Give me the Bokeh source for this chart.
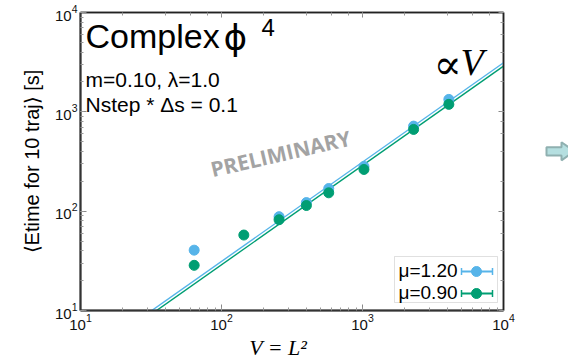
from bokeh.plotting import figure
from bokeh.layouts import row
from bokeh.models import (Label, LogAxis, LogTicker, BoxAnnotation,
                          Arrow, TeeHead, ColumnDataSource, Range1d, CustomJSTickFormatter)
from bokeh.embed import file_html
from bokeh.resources import INLINE

# ---- data ----
V_mu120 = [64, 256, 400, 576, 1024, 2304, 4096]
T_mu120 = [40.5, 88, 122, 169, 282, 718, 1334]
V_mu090 = [64, 144, 256, 400, 576, 1024, 2304, 4096]
T_mu090 = [28.5, 57.5, 82, 114, 153, 263, 665, 1189]
fit_V = [10, 10000]
fit_coef = [0.312, 0.2885]          # T = c * V
series_labels = ["μ=1.20", "μ=0.90"]
colors = ["#56b4e9", "#009e73"]

# frame geometry (window px) for placing annotations
FL, FR, FT, FB = 82, 505, 13, 311
def dx(xw):
    return 10 ** (1 + 3 * (xw - FL) / (FR - FL))
def dy(yw):
    return 10 ** (1 + 3 * (FB - yw) / (FB - FT))

BL, BT, BR, BB = 80, 12, 20, 48
p = figure(x_axis_type="log", y_axis_type="log",
           x_range=Range1d(10, 1e4), y_range=Range1d(10, 1e4),
           frame_width=FR - FL, frame_height=FB - FT,
           min_border_left=BL, min_border_top=BT,
           min_border_right=BR, min_border_bottom=BB,
           output_backend="svg", toolbar_location=None)
p.grid.visible = False
p.outline_line_color = "#222222"
p.outline_line_width = 1.5
p.background_fill_color = "white"
p.border_fill_color = "white"

for ax in (p.xaxis[0], p.yaxis[0]):
    ax.axis_line_color = "#333333"
    ax.axis_line_width = 2
    ax.major_tick_in = 6
    ax.major_tick_out = 0
    ax.minor_tick_in = 3
    ax.minor_tick_out = 0
    ax.major_tick_line_color = "#888888"
    ax.minor_tick_line_color = "#999999"
    ax.major_label_text_font = "Liberation Sans"
    ax.major_label_text_font_size = "15px"
    ax.major_label_text_color = "#111111"
    ax.axis_label_text_color = "black"

p.yaxis[0].axis_label = "⟨Etime for 10 traj⟩ [s]"
p.yaxis[0].axis_label_text_font = "Liberation Sans"
p.yaxis[0].axis_label_text_font_size = "20px"
p.yaxis[0].axis_label_text_font_style = "normal"
p.yaxis[0].axis_label_standoff = 9
p.yaxis[0].major_label_standoff = 3

p.xaxis[0].axis_label = "V = L²" + "\u00a0" * 5
p.xaxis[0].axis_label_text_font = "Liberation Serif"
p.xaxis[0].axis_label_text_font_size = "22px"
p.xaxis[0].axis_label_text_font_style = "italic"
p.xaxis[0].axis_label_standoff = 2
p.xaxis[0].major_label_standoff = 3

for loc in ("above", "right"):
    a = LogAxis(ticker=LogTicker(), formatter=CustomJSTickFormatter(code="return ' '"))
    a.axis_line_color = "#222222"
    a.axis_line_width = 1.5
    a.major_tick_in = 5
    a.major_tick_out = 0
    a.minor_tick_in = 3
    a.minor_tick_out = 0
    a.major_tick_line_color = "#888888"
    a.minor_tick_line_color = "#999999"
    a.major_label_text_font_size = "2px"
    a.major_label_standoff = 0
    p.add_layout(a, loc)

# fit lines
for c, col in zip(fit_coef, colors):
    p.line(fit_V, [c * v for v in fit_V], line_color=col, line_width=1.4)

# data points
p.scatter(V_mu120, T_mu120, size=10, color=colors[0])
p.scatter(V_mu090, T_mu090, size=10, color=colors[1])

# texts (positioned by their vertical middle)
def txt(xw, yw, s, size, font="Liberation Sans", style="normal", color="black", **kw):
    p.add_layout(Label(x=dx(xw), y=dy(yw), text=s, text_font=font, text_font_style=style,
                       text_font_size=size, text_color=color, text_baseline="middle", **kw))

txt(87, 36.5, "Complex", "34px")
txt(225, 37.5, "ϕ", "36px", font="DejaVu Sans")
txt(263, 27.5, "4", "24px")
txt(87, 79.5, "m=0.10, λ=1.0", "21px")
txt(87, 104.5, "Nstep * Δs = 0.1", "21px")
txt(435, 65, "∝", "42px", font="DejaVu Serif")
txt(462, 62.5, "V", "38px", font="Liberation Serif", style="italic")
txt(282, 154, "PRELIMINARY", "21px", font="Open Sans", style="bold", color="#a3a3a3",
    angle=13, angle_units="deg", text_align="center")

# legend (label left, error-bar glyph right)
p.add_layout(BoxAnnotation(left=dx(396), right=dx(499), top=dy(257), bottom=dy(303),
                           fill_color="white", fill_alpha=1, line_color="#999999",
                           line_width=1, level="underlay"))
leg_rows = [271, 293]
for lab, col, yr in zip(series_labels, colors, leg_rows):
    txt(400, yr, lab, "19px")
    p.add_layout(Arrow(x_start=dx(463), x_end=dx(494), y_start=dy(yr + 1), y_end=dy(yr + 1),
                       line_color=col, line_width=2,
                       start=TeeHead(size=7, line_color=col, line_width=1.5),
                       end=TeeHead(size=7, line_color=col, line_width=1.5)))
leg_src = ColumnDataSource(dict(x=[dx(478)] * 2, y=[dy(r + 1) for r in leg_rows], c=colors))
p.scatter("x", "y", source=leg_src, size=10, color="c", level="overlay")

# small decorative arrow to the right of the chart (window-pixel coordinates)
W2 = 45
x0 = 2 + BL + (FR - FL) + BR
H = BT + (FB - FT) + BB
p2 = figure(width=W2, height=H, x_range=Range1d(x0, x0 + W2), y_range=Range1d(1 + H, 1),
            output_backend="svg", toolbar_location=None,
            min_border=0, min_border_left=0, min_border_right=0,
            min_border_top=0, min_border_bottom=0)
p2.axis.visible = False
p2.grid.visible = False
p2.outline_line_color = None
p2.background_fill_color = "white"
p2.border_fill_color = "white"
p2.patch([548, 563, 563, 576, 563, 563, 548], [165, 165, 159, 170, 181, 175, 175],
         fill_color="#b5dfe0", line_color="#8fb0b0", line_width=2)

open("out.html", "w").write(file_html(row(p, p2), INLINE))
